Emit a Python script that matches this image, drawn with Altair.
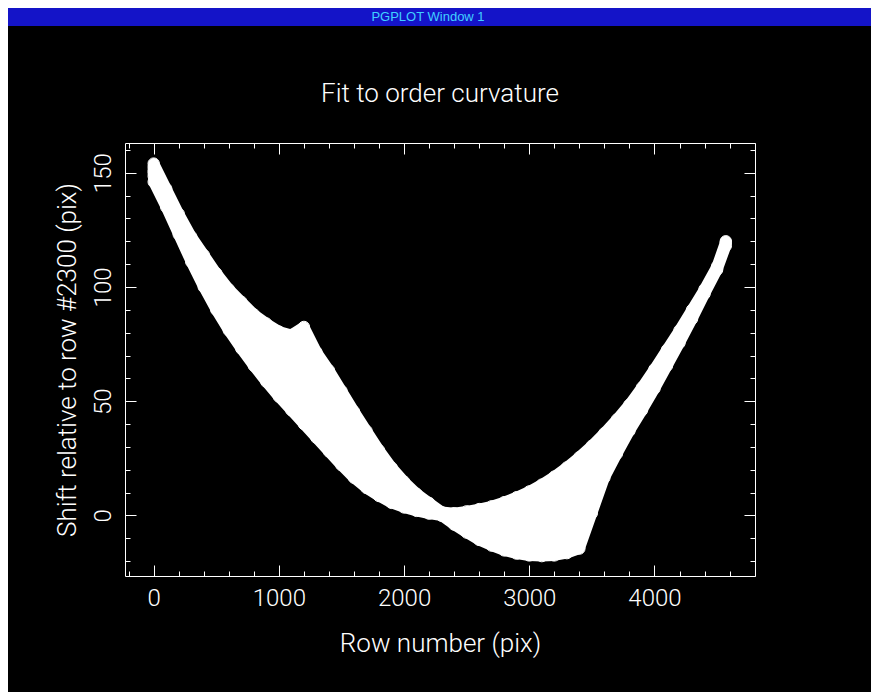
import altair as alt
import pandas as pd

# ---- data (row number vs shift, one list per traced order) ----
rows = list(range(0, 4600, 100)) + [4570]
N = None

order_a = [146, 135, 123, 111, 100, 90, 81, 73, 65.5, 58.5, 52, 46, 40, 34, 28, 22, 16.5, 12, 8.5, 5.5, 3.5, 2, 0.8,
           0,
           1, 1.8, 2.8, 4, 5.8, 8, 10.5, 13.5, 17, 21, 25.5, 30.5, 36, 42, 48.5, 56, 64, 72.5, 81, 90, 99, 109,
           120]
order_b = [154, 143, 132, 122, 114, 106, 99, 93.5, 88, 84, 80.5, 79, 82.5] + [N] * 34
order_c = [152.5, 141, 130, 120, 111.5, 104, 97, 91, 86, 82, 78.5, 77.5, 76.5, 71.5, 63.5, 54.5, 45.5, 37, 28.5,
           21, 14.8, 9.5, 5.5, 1.5,
           -4, -7.5, -10.7, -13.2, -15.3, -16.7, -17.5, -17.8, -17.5, -16.5, -14.5] + [N] * 12
order_d = [150, 138, 127, 116, 106, 97, 89, 82, 75, 68.5, 63, 57.5, 52.5, 46, 39, 32.5, 26, 20, 15, 10.5, 7, 4, 2, 0,
           -2, -4, -6, -8, -9.5, -10.5, -10.5, -10, -8, -5, 0, 8, 16.5, 27, 37, 46, 55.5, 65.5, 75.5, 86, 97, 107.5,
           118]
order_e = [151, 139.5, 128.5, 118, 108.5, 100, 92.5, 86, 80, 75, 70.5, 66.5, 62.5, 57, 50, 43, 35.5, 28, 21.5, 15,
           10, 5.5, 2.5, 0.5,
           -3, -6, -9, -11.5, -13, -14, -14.5, -14.5, -13.5, -11.5, -7, 1] + [N] * 11
order_f = [148.5, 136.5, 125, 113.5, 103, 93.5, 85, 77.5, 70, 63.5, 57.5, 51.5, 46, 40, 33.5, 27, 21, 16, 11.5, 8,
           5, 3, 1.3, 0,
           0, 0, -0.5, -0.5, 0, 1, 2.5, 4.5, 7, 10, 13.5, 19, 25, 33, 42, 51, 60, 69, 78.5, 88, 98, 108,
           119.5]

curves = {"a": order_a, "b": order_b, "c": order_c, "d": order_d, "e": order_e, "f": order_f}

# axis limits and tick values
x_domain = [-229, 4803]
y_domain = [-26.5, 163]
x_major = [0, 1000, 2000, 3000, 4000]
x_minor = [v for v in range(-200, 4801, 200) if v % 1000 != 0]
y_major = [0, 50, 100, 150]
y_minor = [v for v in range(-20, 161, 10) if v % 50 != 0]

records = []
for name, vals in curves.items():
    for r, s in zip(rows, vals):
        if s is not None:
            records.append({"order": name, "row": r, "shift": s})
df = pd.DataFrame(records)

FONT = "Roboto"
xs = alt.Scale(domain=x_domain, nice=False, zero=False)
ys = alt.Scale(domain=y_domain, nice=False, zero=False)

common = dict(domain=False, grid=False, tickColor="white", tickWidth=1, labelColor="white",
              titleColor="white", labelFont=FONT, titleFont=FONT, labelFontSize=24, titleFontSize=26,
              labelFontWeight=300, titleFontWeight=300)

ax_bottom = alt.Axis(orient="bottom", values=x_major, tickSize=11, offset=-11, format="d", labelPadding=10,
                     labelFlush=False, labelOverlap=False, title="Row number (pix)", titlePadding=20, **common)
ax_bottom_minor = alt.Axis(orient="bottom", values=x_minor, tickSize=5, offset=-5, labels=False, title=None, **common)
ax_top = alt.Axis(orient="top", values=x_major, tickSize=11, offset=-11, labels=False, title=None, **common)
ax_top_minor = alt.Axis(orient="top", values=x_minor, tickSize=5, offset=-5, labels=False, title=None, **common)

ax_left = alt.Axis(orient="left", values=y_major, tickSize=11, offset=-11, format="d", labelAngle=270,
                   labelAlign="center", labelBaseline="alphabetic", labelPadding=15, labelFlush=False,
                   labelOverlap=False, title="Shift relative to row #2300 (pix)", titlePadding=11, **common)
ax_left_minor = alt.Axis(orient="left", values=y_minor, tickSize=5, offset=-5, labels=False, title=None, **common)
ax_right = alt.Axis(orient="right", values=y_major, tickSize=11, offset=-11, labels=False, title=None, **common)
ax_right_minor = alt.Axis(orient="right", values=y_minor, tickSize=5, offset=-5, labels=False, title=None, **common)

base = alt.Chart(df)

band = base.transform_aggregate(
    lo="min(shift)", hi="max(shift)", groupby=["row"]
).mark_area(color="white", stroke="white", strokeWidth=11, strokeJoin="round", strokeCap="round").encode(
    x=alt.X("row:Q", scale=xs, axis=ax_bottom),
    y=alt.Y("lo:Q", scale=ys, axis=ax_left),
    y2="hi:Q",
)

pt = dict(shape="circle", filled=False, size=130, strokeWidth=1, color="white", opacity=1)

pts1 = base.transform_filter(alt.FieldOneOfPredicate(field="order", oneOf=["a", "b"])).mark_point(**pt).encode(
    x=alt.X("row:Q", scale=xs, axis=ax_bottom_minor),
    y=alt.Y("shift:Q", scale=ys, axis=ax_left_minor),
)
pts2 = base.transform_filter(alt.FieldOneOfPredicate(field="order", oneOf=["c", "d"])).mark_point(**pt).encode(
    x=alt.X("row:Q", scale=xs, axis=ax_top),
    y=alt.Y("shift:Q", scale=ys, axis=ax_right),
)
pts3 = base.transform_filter(alt.FieldOneOfPredicate(field="order", oneOf=["e", "f"])).mark_point(**pt).encode(
    x=alt.X("row:Q", scale=xs, axis=ax_top_minor),
    y=alt.Y("shift:Q", scale=ys, axis=ax_right_minor),
)

# window chrome (title bar of the PGPLOT window)
one = alt.Data(values=[{}])
bar = alt.Chart(one).mark_rect(color="#1414c8").encode(
    x=alt.value(-117), x2=alt.value(746), y=alt.value(-135), y2=alt.value(-117)
)
bar_text = alt.Chart(one).mark_text(text="PGPLOT Window 1", font="Liberation Sans", fontSize=13,
                                    color="#40d0ff", align="center", baseline="middle").encode(
    x=alt.value(303), y=alt.value(-126)
)

chart = alt.layer(bar, bar_text, band, pts1, pts2, pts3).resolve_axis(
    x="independent", y="independent"
).properties(
    width=630,
    height=433,
    title=alt.TitleParams(text="Fit to order curvature", color="white", font=FONT, fontSize=26,
                          fontWeight=300, anchor="middle", frame="group", baseline="alphabetic", offset=-120),
    padding={"left": 117, "top": 135, "right": 116, "bottom": 116},
    autosize=alt.AutoSizeParams(type="none"),
    background="black",
).configure_view(stroke="white", strokeWidth=1)

chart.save("out.html", embed_options={"renderer": "svg", "actions": False})
